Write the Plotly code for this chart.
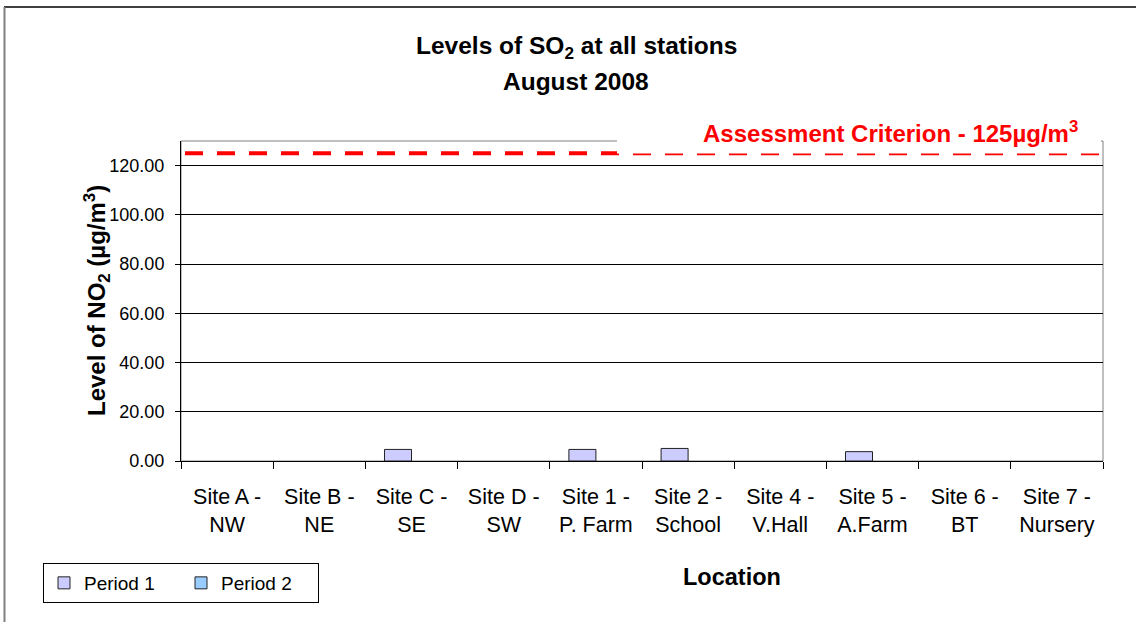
import plotly.graph_objects as go

categories = ["Site A -<br>NW", "Site B -<br>NE", "Site C -<br>SE", "Site D -<br>SW",
              "Site 1 -<br>P. Farm", "Site 2 -<br>School", "Site 4 -<br>V.Hall",
              "Site 5 -<br>A.Farm", "Site 6 -<br>BT", "Site 7 -<br>Nursery"]
period1 = [None, None, 4.7, None, 4.7, 5.1, None, 3.8, None, None]
period2 = [None, None, None, None, None, None, None, None, None, None]
criterion = 125
y_ticks = [0, 20, 40, 60, 80, 100, 120]

W, H = 1136, 622
L, R, T, B = 181, 1103, 141, 461
pw, ph = R - L, B - T

def px(x):
    return (x - L) / pw

def py(y):
    return (B - y) / ph

FONT = "Liberation Sans, Arial, sans-serif"

fig = go.Figure()
fig.add_trace(go.Bar(x=categories, y=period1, name="Period 1",
                     marker=dict(color="#CCCCFF", line=dict(color="#222222", width=1))))
fig.add_trace(go.Bar(x=categories, y=period2, name="Period 2",
                     marker=dict(color="#99CCFF", line=dict(color="#222222", width=1))))

shapes = [
    # outer chart border (top black, left gray)
    dict(type="line", xref="paper", yref="paper", x0=px(4), x1=px(1145), y0=py(7), y1=py(7),
         line=dict(color="#000000", width=1.5), layer="below"),
    dict(type="line", xref="paper", yref="paper", x0=px(4.5), x1=px(4.5), y0=py(7), y1=py(640),
         line=dict(color="#808080", width=2), layer="below"),
    # plot area border
    dict(type="rect", xref="paper", yref="paper", x0=0, x1=1, y0=0, y1=1,
         line=dict(color="#808080", width=1), fillcolor="rgba(0,0,0,0)", layer="below"),
    # criterion line
    dict(type="line", xref="paper", yref="y", x0=px(185), x1=px(1100), y0=criterion, y1=criterion,
         line=dict(color="#FF0000", width=4, dash="18px,14px"), layer="above"),
    # white box behind criterion label
    dict(type="rect", xref="paper", yref="paper", x0=px(617), x1=px(1101), y0=py(153.5), y1=py(105),
         line=dict(width=0), fillcolor="#FFFFFF", layer="above"),
]

annotations = [
    dict(text="<b>Levels of SO<sub>2</sub> at all stations</b>", xref="paper", yref="paper",
         x=px(576), y=py(47), xanchor="center", yanchor="middle", showarrow=False,
         font=dict(family=FONT, size=24.5, color="#000000")),
    dict(text="<b>August 2008</b>", xref="paper", yref="paper",
         x=px(576), y=py(81), xanchor="center", yanchor="middle", showarrow=False,
         font=dict(family=FONT, size=24.5, color="#000000")),
    dict(text="<b>Assessment Criterion - 125µg/m<sup>3</sup></b>", xref="paper", yref="paper",
         x=px(890), y=py(132), xanchor="center", yanchor="middle", showarrow=False,
         font=dict(family=FONT, size=24, color="#FF0000")),
    dict(text="<b>Level of NO<sub>2</sub> (µg/m<sup>3</sup>)</b>", xref="paper", yref="paper",
         x=px(97), y=0.5, xanchor="center", yanchor="middle", textangle=-90, showarrow=False,
         font=dict(family=FONT, size=24, color="#000000")),
    dict(text="<b>Location</b>", xref="paper", yref="paper",
         x=px(732), y=py(577), xanchor="center", yanchor="middle", showarrow=False,
         font=dict(family=FONT, size=23.5, color="#000000")),
]

fig.update_layout(
    width=W, height=H,
    margin=dict(l=L, r=W - R, t=T, b=H - B, pad=0),
    paper_bgcolor="#FFFFFF", plot_bgcolor="#FFFFFF",
    barmode="group", bargap=0.414, bargroupgap=0,
    showlegend=True,
    legend=dict(orientation="h", x=px(43), y=py(563), xanchor="left", yanchor="top",
                bordercolor="#000000", borderwidth=1, bgcolor="#FFFFFF",
                entrywidth=92, entrywidthmode="pixels",
                font=dict(family=FONT, size=19, color="#000000"), traceorder="normal"),
    shapes=shapes, annotations=annotations,
    font=dict(family=FONT, color="#000000"),
)
fig.update_xaxes(showline=True, linecolor="#000000", linewidth=1, ticks="outside", ticklen=7,
                 tickcolor="#000000", tickson="boundaries", showgrid=False, ticklabelstandoff=16,
                 tickfont=dict(family=FONT, size=21.5, color="#000000"))
fig.update_yaxes(range=[0, 130], tickvals=y_ticks, ticktext=[f"{v:.2f}" for v in y_ticks],
                 showline=True, linecolor="#000000", linewidth=1, ticks="outside", ticklen=5,
                 tickcolor="#000000", showgrid=True, gridcolor="#000000", gridwidth=1,
                 zeroline=False, ticklabelstandoff=7,
                 tickfont=dict(family=FONT, size=18, color="#000000"))

fig.write_html("out.html", config={"displayModeBar": False},
               post_script="document.body.style.margin='0';")
